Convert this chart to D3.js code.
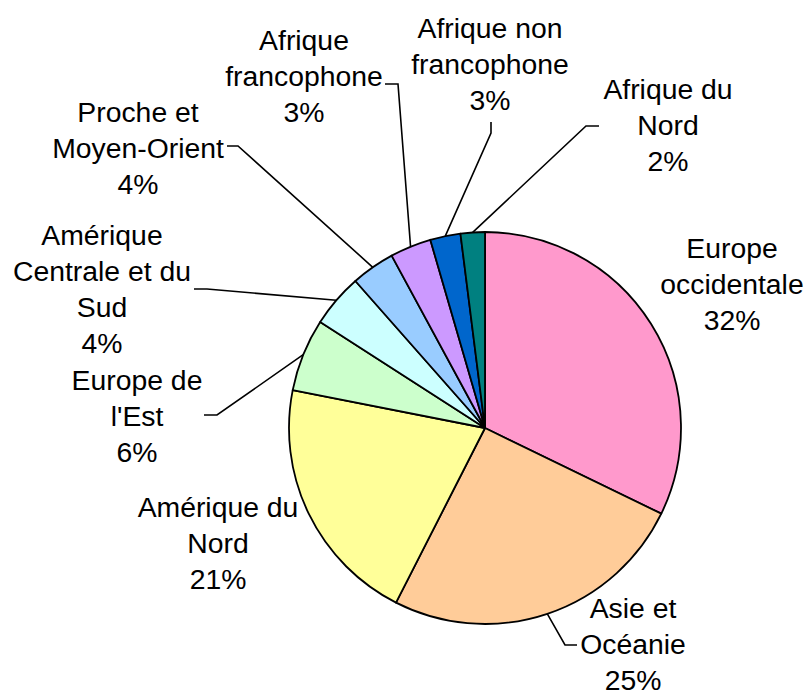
<!DOCTYPE html>
<html>
<head>
<meta charset="utf-8">
<script src="https://cdn.jsdelivr.net/npm/d3@7"></script>
<style>
  html, body { margin: 0; padding: 0; background: #fff; }
  svg { display: block; }
  text { font-family: "Liberation Sans", Arial, sans-serif; fill: #000; }
</style>
</head>
<body>
<svg id="chart" width="806" height="690"></svg>
<script>
// ---- data ----
const categories = [
  "Europe occidentale", "Asie et Océanie", "Amérique du Nord", "Europe de l'Est",
  "Amérique Centrale et du Sud", "Proche et Moyen-Orient", "Afrique francophone",
  "Afrique non francophone", "Afrique du Nord"
];
const values = [32.2, 25.3, 20.6, 6.0, 4.4, 3.6, 3.4, 2.5, 2.0];
const pctLabels = ["32%", "25%", "21%", "6%", "4%", "4%", "3%", "3%", "2%"];
const labelLines = [
  ["Europe", "occidentale"],
  ["Asie et", "Océanie"],
  ["Amérique du", "Nord"],
  ["Europe de", "l'Est"],
  ["Amérique", "Centrale et du", "Sud"],
  ["Proche et", "Moyen-Orient"],
  ["Afrique", "francophone"],
  ["Afrique non", "francophone"],
  ["Afrique du", "Nord"]
];
const colors = ["#FF99CC", "#FFCC99", "#FFFF99", "#CCFFCC", "#CCFFFF",
                "#99CCFF", "#CC99FF", "#0066CC", "#008080"];

// ---- layout (positions only) ----
const cx = 485, cy = 428, radius = 196;
const lineH = 36;
const labelPos = [
  { x: 732, y: 258 },
  { x: 633, y: 618, elbow: [565, 645], end: [577, 645] },
  { x: 218, y: 517 },
  { x: 137, y: 390, elbow: [217, 415], end: [204, 415] },
  { x: 102, y: 245, elbow: [207, 289], end: [194, 289] },
  { x: 138, y: 122, elbow: [238, 146], end: [227, 146] },
  { x: 304, y: 50,  elbow: [398, 84],  end: [385, 84] },
  { x: 490, y: 38,  elbow: [491, 133], end: [491, 122] },
  { x: 668, y: 99,  elbow: [586, 126], end: [599, 126] }
];

const svg = d3.select("#chart");
const data = categories.map((c, i) => ({ cat: c, value: values[i], i }));

const pie = d3.pie().value(d => d.value).sort(null);
const arcs = pie(data);
const arc = d3.arc().innerRadius(0).outerRadius(radius);

const g = svg.append("g").attr("transform", `translate(${cx},${cy})`);
g.selectAll("path.slice")
  .data(arcs)
  .join("path")
  .attr("class", "slice")
  .attr("d", arc)
  .attr("fill", d => colors[d.data.i])
  .attr("stroke", "#000")
  .attr("stroke-width", 1.8)
  .attr("stroke-linejoin", "round");

// leader lines
arcs.forEach(a => {
  const p = labelPos[a.data.i];
  if (!p.elbow) return;
  const mid = (a.startAngle + a.endAngle) / 2;
  const sx = cx + radius * Math.sin(mid);
  const sy = cy - radius * Math.cos(mid);
  svg.append("path")
    .attr("d", d3.line()([[sx, sy], p.elbow, p.end]))
    .attr("fill", "none")
    .attr("stroke", "#000")
    .attr("stroke-width", 1.6);
});

// labels
arcs.forEach(a => {
  const i = a.data.i;
  const p = labelPos[i];
  const lines = labelLines[i].concat([pctLabels[i]]);
  const t = svg.append("g")
    .attr("transform", `translate(${p.x},${p.y}) scale(1.05,1)`)
    .append("text")
    .attr("text-anchor", "middle")
    .attr("font-size", "27px");
  lines.forEach((ln, k) => {
    t.append("tspan").attr("x", 0).attr("y", k * lineH).text(ln);
  });
});
</script>
</body>
</html>
